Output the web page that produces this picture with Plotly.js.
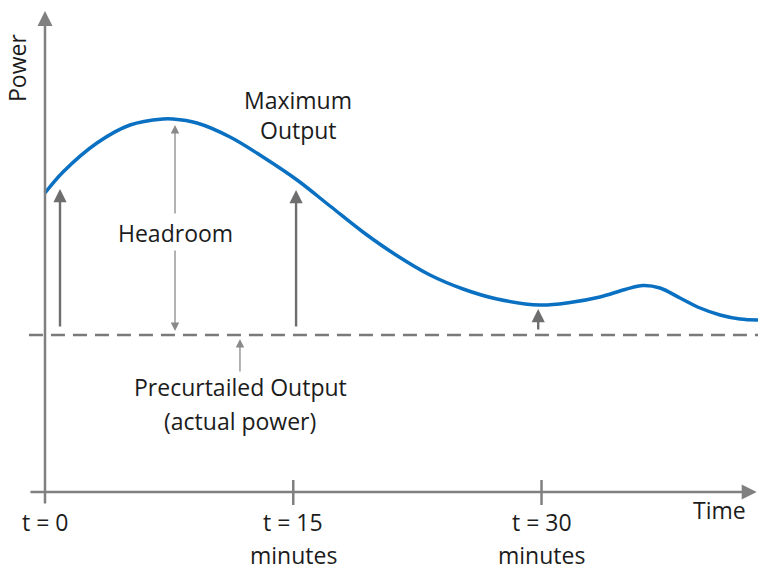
<!DOCTYPE html>
<html>
<head>
<meta charset="utf-8">
<script src="https://cdn.plot.ly/plotly-3.0.1.min.js"></script>
<style>html,body{margin:0;padding:0;background:#fff;}#chart{width:758px;height:573px;}</style>
</head>
<body>
<div id="chart"></div>
<script>
// Maximum output curve (time in minutes, power in arbitrary units)
var timeMin = [0, 1.09, 3.14, 5.14, 7.13, 7.73, 9.18, 11.18, 13.17, 15.23, 17.22, 19.21, 21.21, 23.26, 25.26, 27.31, 29.91, 31.72, 33.53, 35.05, 36.13, 37.16, 38.37, 39.58, 40.79, 41.99, 43.08];
var maxOutput = [29.9, 32.0, 34.9, 36.7, 37.3, 37.3, 36.9, 35.5, 33.5, 31.2, 28.6, 26.0, 23.7, 21.7, 20.3, 19.3, 18.7, 18.95, 19.5, 20.25, 20.65, 20.4, 19.4, 18.4, 17.7, 17.3, 17.2];
// Precurtailed output (actual power) level
var precurtailed = 15.7;
// Tick labels
var tickVals = [0, 15, 30];
var tickLine1 = ["t = 0", "t = 15", "t = 30"];
var tickLine2 = ["", "minutes", "minutes"];

var FONT = "Open Sans, Noto Sans, sans-serif";
var TXT = "#1c1c1c";
var AX = "#808080";
var AR = "#6e6e6e";
var FS = 23;

var traces = [{
  x: timeMin, y: maxOutput, type: "scatter", mode: "lines",
  line: {color: "#0a70c2", width: 3.5, shape: "spline", smoothing: 1},
  hoverinfo: "skip", cliponaxis: false
}];

var shapes = [{
  type: "line", xref: "x", yref: "y", x0: -0.97, x1: 43.08, y0: precurtailed, y1: precurtailed,
  line: {color: "#7a7a7a", width: 2.5, dash: "14px,8px"}, layer: "below"
}];
tickVals.forEach(function (t) {
  if (t === 0) return;
  shapes.push({type: "line", xref: "x", yref: "y", x0: t, x1: t, y0: -1.3, y1: 1.2,
    line: {color: AX, width: 2.5}});
});

function arrow(x, yTip, yTail, w, size, color) {
  return {x: x, y: yTip, ax: x, ay: yTail, xref: "x", yref: "y", axref: "x", ayref: "y",
    text: "", showarrow: true, arrowhead: 2, arrowsize: size, arrowwidth: w, arrowcolor: color};
}
function label(text, x, y, extra) {
  var a = {x: x, y: y, xref: "x", yref: "y", text: text, showarrow: false,
    xanchor: "center", yanchor: "middle", font: {family: FONT, size: FS, color: TXT}};
  for (var k in extra) a[k] = extra[k];
  return a;
}

var annotations = [
  // axes
  {x: 0, y: 48.1, ax: 0, ay: -1.3, xref: "x", yref: "y", axref: "x", ayref: "y", text: "",
    showarrow: true, arrowhead: 2, arrowsize: 1.2, arrowwidth: 2.5, arrowcolor: AX},
  {x: 43.0, y: 0, ax: -0.97, ay: 0, xref: "x", yref: "y", axref: "x", ayref: "y", text: "",
    showarrow: true, arrowhead: 2, arrowsize: 1.2, arrowwidth: 2.5, arrowcolor: AX},
  // headroom arrows
  arrow(0.906, 30.3, 16.4, 2.4, 1.1, AR),
  arrow(15.17, 30.2, 16.4, 2.4, 1.1, AR),
  arrow(29.8, 18.3, 16.1, 2.4, 1.1, AR),
  arrow(7.855, 36.7, 27.7, 1.3, 1.3, "#8a8a8a"),
  arrow(7.855, 16.1, 24.3, 1.3, 1.3, "#8a8a8a"),
  arrow(11.78, 15.3, 11.9, 1.3, 1.3, "#8a8a8a"),
  // text
  label("Maximum", 15.29, 39.2),
  label("Output", 15.29, 36.2),
  label("Headroom", 7.855, 25.9),
  label("Precurtailed Output", 11.84, 10.5),
  label("(actual power)", 11.78, 7.1),
  label("Power", -1.69, 42.4, {textangle: -90}),
  label("Time", 40.73, -1.8)
];
tickVals.forEach(function (t, i) {
  annotations.push(label(tickLine1[i], t, -3.0));
  if (tickLine2[i]) annotations.push(label(tickLine2[i], t, -6.3));
});

var layout = {
  width: 758, height: 573,
  margin: {l: 0, r: 0, t: 0, b: 0, pad: 0},
  paper_bgcolor: "#ffffff", plot_bgcolor: "#ffffff",
  showlegend: false,
  xaxis: {range: [-2.719, 43.08], visible: false, fixedrange: true},
  yaxis: {range: [-8.1, 49.2], visible: false, fixedrange: true},
  shapes: shapes,
  annotations: annotations
};

Plotly.newPlot("chart", traces, layout, {staticPlot: true, displayModeBar: false});
</script>
</body>
</html>
